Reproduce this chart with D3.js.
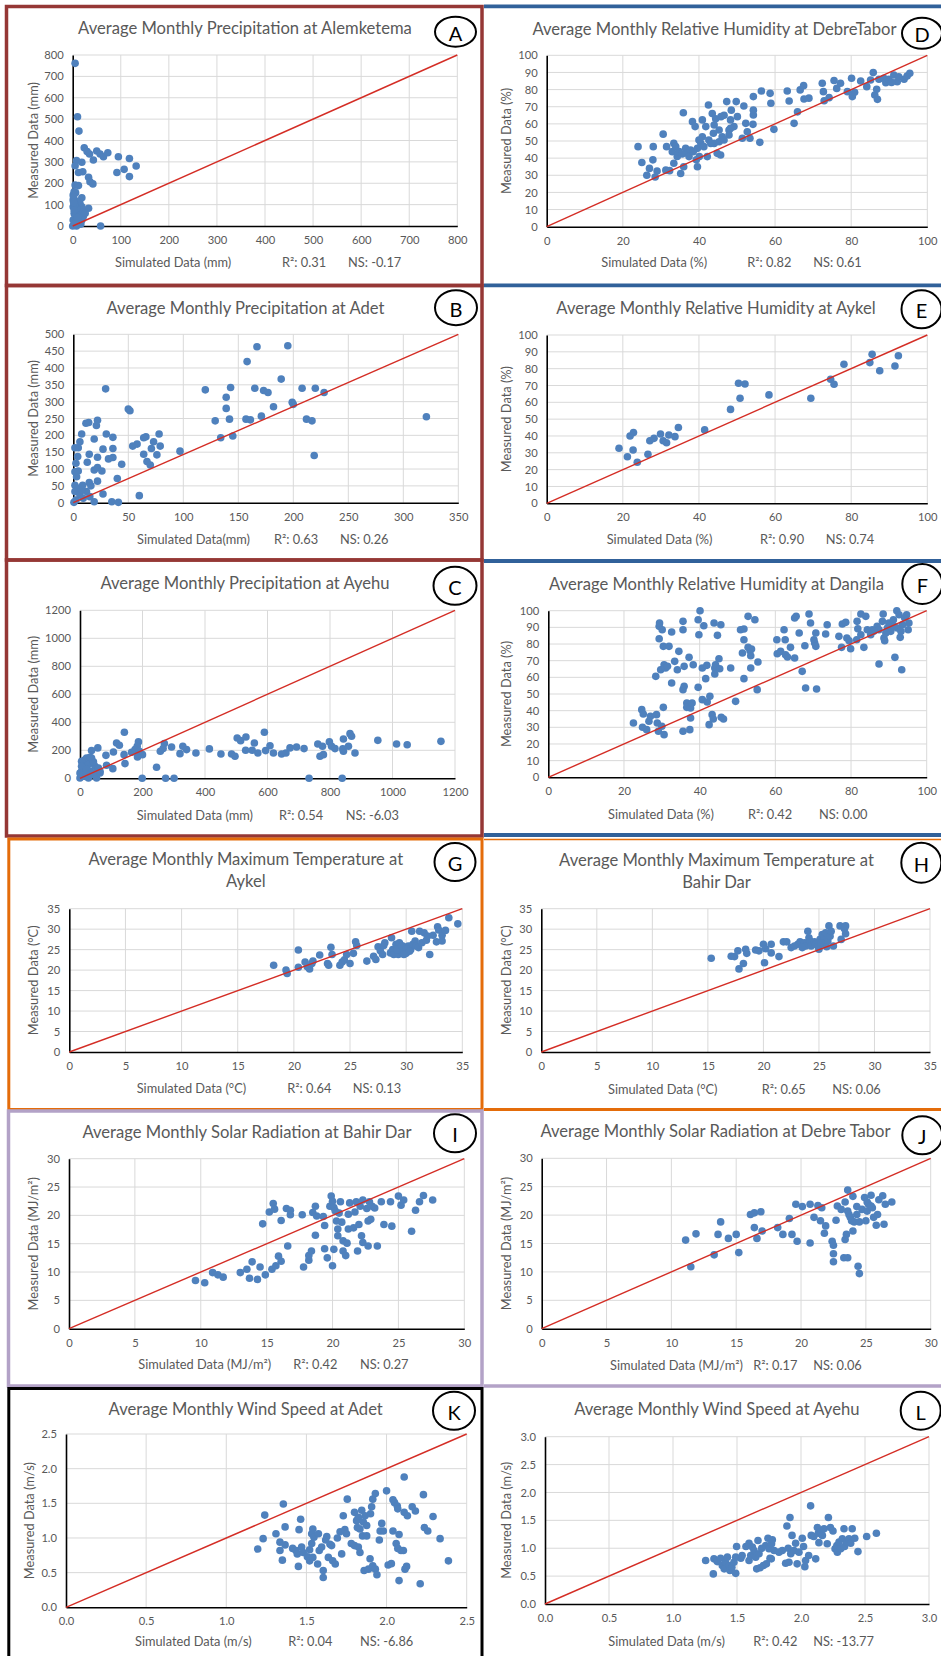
<!DOCTYPE html>
<html>
<head>
<meta charset="utf-8">
<script src="https://cdn.jsdelivr.net/npm/d3@7"></script>
<style>
  body { margin: 0; background: #fff; }
  svg text { font-family: Lato, "Liberation Sans", sans-serif; fill: #595959; }
  .title { font-size: 16.6px; }
  .axlabel { font-size: 12.8px; }
  .tick text { font-size: 11.2px; fill: #595959; font-family: Lato, sans-serif; }
  .badge text { fill: #000; font-size: 20px; }
</style>
</head>
<body>
<svg id="chart" width="941" height="1656"></svg>
<script>
// ---- text ----
const letters = ['A', 'B', 'C', 'D', 'E', 'F', 'G', 'H', 'I', 'J', 'K', 'L'];
const titles = [
  ['Average Monthly Precipitation at Alemketema'],
  ['Average Monthly Precipitation at Adet'],
  ['Average Monthly Precipitation at Ayehu'],
  ['Average Monthly Relative Humidity at DebreTabor'],
  ['Average Monthly Relative Humidity at Aykel'],
  ['Average Monthly Relative Humidity at Dangila'],
  ['Average Monthly Maximum Temperature at', 'Aykel'],
  ['Average Monthly Maximum Temperature at', 'Bahir Dar'],
  ['Average Monthly Solar Radiation at Bahir Dar'],
  ['Average Monthly Solar Radiation at Debre Tabor'],
  ['Average Monthly Wind Speed at Adet'],
  ['Average Monthly Wind Speed at Ayehu']
];
const simLabels = ['Simulated Data (mm)', 'Simulated Data(mm)', 'Simulated Data (mm)',
  'Simulated Data (%)', 'Simulated Data (%)', 'Simulated Data (%)',
  'Simulated Data (°C)', 'Simulated Data (°C)',
  'Simulated Data (MJ/m²)', 'Simulated Data (MJ/m²)',
  'Simulated Data (m/s)', 'Simulated Data (m/s)'];
const measLabels = ['Measured Data (mm)', 'Measured Data (mm)', 'Measured Data (mm)',
  'Measured Data (%)', 'Measured Data (%)', 'Measured Data (%)',
  'Measured Data (°C)', 'Measured Data (°C)',
  'Measured Data (MJ/m²)', 'Measured Data (MJ/m²)',
  'Measured Data (m/s)', 'Measured Data (m/s)'];
const r2Values = ['0.31', '0.63', '0.54', '0.82', '0.90', '0.42', '0.64', '0.65', '0.42', '0.17', '0.04', '0.42'];
const nsValues = ['-0.17', '0.26', '-6.03', '0.61', '0.74', '0.00', '0.13', '0.06', '0.27', '0.06', '-6.86', '-13.77'];

// ---- tick labels ----
const ticksPrecipA = [0, 100, 200, 300, 400, 500, 600, 700, 800];
const ticksPrecipBx = [0, 50, 100, 150, 200, 250, 300, 350];
const ticksPrecipBy = [0, 50, 100, 150, 200, 250, 300, 350, 400, 450, 500];
const ticksPrecipC = [0, 200, 400, 600, 800, 1000, 1200];
const ticksHumX = [0, 20, 40, 60, 80, 100];
const ticksHumY = [0, 10, 20, 30, 40, 50, 60, 70, 80, 90, 100];
const ticksTemp = [0, 5, 10, 15, 20, 25, 30, 35];
const ticksSolar = [0, 5, 10, 15, 20, 25, 30];
const ticksWindK = [0, 0.5, 1, 1.5, 2, 2.5];
const ticksWindL = [0, 0.5, 1, 1.5, 2, 2.5, 3];

// ---- series: [simulated, measured] ----
const precipAlemketema = [[5,761],[10,511],[13,444],[24,366],[30,348],[35,337],[43,309],[50,351],[57,337],[64,324],[73,343],[8,306],[5,282],[19,298],[12,250],[21,254],[33,228],[36,207],[42,197],[5,192],[12,189],[6,156],[19,132],[33,83],[95,324],[92,250],[107,265],[118,316],[118,231],[132,281],[58,0],[1,122],[1,90],[3,59],[1,28],[5,5],[8,0],[12,20],[15,59],[19,90],[22,67],[15,106],[10,114],[8,83],[5,51],[7,28],[19,28],[14,44],[22,44],[17,9],[0,0],[3,160],[1,145],[2,135],[4,100],[3,75],[10,40],[26,60],[6,10],[2,110]];
const precipAdet = [[29.4,338],[50,278],[51.5,273],[120,335],[139,313],[139,280],[143,342],[129,243],[142,248],[134,193],[145,198],[158,419],[167,463],[195,466],[189,367],[165,340],[173,333],[177,327],[208,340],[220,340],[228,327],[199,298],[200,292],[182,285],[171,257],[157,248],[161,246],[212,248],[217,243],[219,140],[321,255],[97,153],[78,204],[79,168],[66,196],[64,193],[73,181],[71,161],[76,142],[64,144],[67,122],[70,112],[54,168],[58,174],[44,114],[40,72],[60,21],[35,3],[41,1],[27,26],[19,3],[30,204],[36,194],[36,161],[36,134],[32,130],[27,159],[22,245],[21,229],[14,238],[11.5,236],[19,189],[14.5,144],[12.7,120],[19,97],[22,104],[26,94],[22,135],[22,64],[14.5,60],[16,50],[7.6,204],[6,181],[4.5,163],[1.5,163],[4,137],[2.4,117],[1.5,92],[4.5,94],[1.5,52],[4.5,43],[1.5,33],[6,23],[2.4,8],[9,13],[12,33],[15,18],[0.6,1],[7.6,38],[3,77],[8.5,52]];
const precipAyehu = [[142,329],[187,260],[183,229],[117,252],[126,236],[107,188],[141,169],[144,105],[83,164],[85,93],[105,69],[57,217],[37,198],[165,186],[176,205],[190,193],[200,169],[184,152],[199,0],[274,0],[301,0],[733,0],[839,0],[270,248],[257,193],[266,212],[245,79],[293,224],[320,176],[329,229],[341,205],[371,181],[414,210],[451,174],[485,174],[496,157],[503,288],[514,269],[531,295],[530,200],[551,200],[558,252],[569,181],[590,329],[594,198],[608,233],[619,181],[645,174],[659,181],[672,217],[693,224],[717,212],[761,245],[768,157],[779,169],[776,229],[798,260],[805,229],[816,212],[843,281],[843,193],[841,210],[859,229],[864,319],[869,300],[880,181],[953,271],[1013,245],[1047,240],[1155,264],[0,2],[5,50],[11,98],[16,133],[21,145],[5,121],[27,98],[32,50],[37,145],[48,86],[53,50],[43,26],[16,14],[27,2],[53,2],[64,38],[59,74],[11,38],[0,38],[5,86],[21,62],[43,117],[32,150],[64,50]];
const humDebreTabor = [[24,46.7],[25,37.5],[26.3,30],[27,34],[28,46.7],[27.9,39],[28.5,29],[29,32.5],[30.6,54],[31.5,46.7],[31.3,33],[32.3,32.7],[33.4,48.6],[33,43.8],[33.4,37],[34.3,41],[35.2,31],[35.9,66.5],[36,35],[36.5,45.7],[37,42.8],[37.8,44.7],[38.3,61.3],[39,58.4],[39.6,45.7],[39.6,35],[39.3,39],[40.5,48.6],[40.9,62.3],[40.9,52.5],[41.8,58.4],[42.2,40.9],[42.5,71],[42.6,50.6],[43.5,66],[43.8,54.5],[44,48.6],[44.4,63],[44.8,42.8],[45.3,56.4],[45.7,41.8],[46.1,52.5],[46.6,65],[47.3,73],[47.9,56.4],[48.3,62.3],[48.5,68],[47.9,53.5],[49.2,58.4],[49.8,73],[51.4,51.6],[51.8,70.4],[52.3,60.3],[52.7,55.4],[53.4,51.6],[54.3,75.9],[54.3,65.2],[54.3,68],[54.2,59.7],[56,49.2],[56.4,79.2],[58.7,77.8],[58.9,72],[59.7,56.8],[63.2,79.2],[63.7,73.3],[65,60.3],[65.9,67],[66.6,79.8],[67.5,82.3],[67.6,74.5],[68.9,75],[72.4,83.7],[72.7,78.8],[72.9,73.5],[74.2,75.3],[75.5,85.3],[76.2,80.7],[77.2,83.7],[79,78.8],[80.1,86.6],[80.3,75.9],[80.9,78.4],[82.5,85],[84.1,81.7],[85.1,85.6],[85.8,89.9],[86.2,76.8],[86.9,74.3],[86.7,80.2],[87.3,86],[88.6,86.6],[89.1,84],[89.9,86],[91.2,88.5],[92.1,84.6],[93.9,86],[94.7,87.9],[95.4,89.5],[92.5,87.5],[90.6,84.2],[33.9,46.7],[34.8,43.8],[35.6,42.4],[37.4,40.9],[38.5,43.8],[40.1,40.9],[41.3,46.7],[43.1,48.6],[45.3,49.6],[46.6,50.6],[48.3,57.4],[50.1,64.2],[44,59.3],[45.8,64.2],[40,50.6]];
const humAykel = [[19,32.7],[21.2,27.7],[21.9,40],[22.8,42],[22.7,31.7],[23.8,24.4],[26.6,29.1],[27.1,37.2],[28.2,38.6],[29.9,41.2],[30.6,37.2],[31.5,36],[32.1,40.6],[33.7,39.6],[34.6,45],[41.5,43.6],[48.3,55.8],[50.4,71.3],[52.1,70.9],[50.8,62.4],[58.4,64.4],[69.4,62.4],[74.6,73.7],[75.5,70.7],[78.1,82.6],[84.9,83.6],[85.5,88.5],[87.5,78.8],[91.5,81.6],[92.4,87.7]];
const humDangila = [[22.5,32.6],[24.7,40.6],[25.1,38],[24.9,30],[26,28.6],[26.6,33.6],[27,36.6],[28.6,37.6],[28.8,32.6],[29.1,27.6],[30,30.6],[30.6,25.6],[30.4,42],[28.4,60.6],[29.3,83.2],[29.3,90.6],[29.4,92.6],[30.1,88.6],[30.4,78.6],[31.9,78.6],[29.7,64.6],[30.6,67.6],[31,65.6],[31.5,66.6],[32.6,56.6],[32.6,87.2],[33.4,69.6],[34.1,64.6],[34.5,75.6],[35.6,93.6],[35.6,88.6],[35.9,66.6],[35.6,52.6],[35.9,54.6],[35.6,27.6],[36.6,44.6],[36.6,42],[37.2,72],[37.4,28.6],[37.6,35.6],[37.6,41.6],[38,44.6],[38.3,67.6],[39.6,94.6],[40.1,100],[39.8,85.6],[39.6,54],[40.7,65.6],[40.7,46.6],[41.1,91],[41.6,59.2],[41.9,67.2],[42,45.2],[42.5,31.6],[42.7,48.6],[43.3,37.6],[43.6,35],[43.8,92.6],[44,65.6],[44,62],[44.2,67.6],[44.7,85.2],[45.1,71.2],[45.3,65.2],[45.6,91.6],[45.7,36],[46.3,35],[48.2,65.6],[49.5,45.6],[50.8,88.6],[51.7,89],[51.3,74.6],[51.7,82.6],[51.7,59.2],[52.8,96.6],[52.8,78],[53.3,76],[53.5,73],[53.7,77],[53.5,65.6],[54.6,94.6],[55.2,52.6],[55.4,69.2],[60.4,82.6],[60.5,74.2],[61.4,75.6],[62.3,88.6],[62.6,82.6],[62.7,73.6],[63.2,72.2],[64,78],[65.1,71.6],[65.1,95.6],[65.5,96.6],[66.3,86.6],[67.1,63.6],[67.8,79],[68,53.6],[68.9,98],[69.3,92.6],[70.2,82.6],[70.4,80.6],[70.7,78.6],[70.7,86.6],[70.9,53],[73.3,86],[73.7,91.6],[76.8,84.6],[77.5,78],[77.7,92],[78.6,93],[78.9,83.6],[79.5,82],[79.9,77.2],[81.5,82.6],[81.6,93.6],[81.8,89.2],[82.6,98],[82.6,85.6],[83.4,78],[83.9,96.6],[84.3,88.6],[85.2,85.6],[85.6,88.6],[86.9,90.6],[87.4,68],[88.3,93.6],[88.5,98],[88.7,83.6],[88.9,82],[89.6,89.6],[90,92.6],[90.5,87.6],[91.2,94.6],[91.6,72],[92.1,100],[92.2,89.6],[92.7,97.6],[93,84],[93.4,64.6],[93.6,91.6],[94.2,95.6],[94.7,97.6],[95.1,88.6],[95.3,92.6],[87.4,88.6],[86,87.6],[89.2,86.6],[91.4,90.6],[93.2,87.6]];
const tmaxAykel = [[18.2,21.2],[19.3,20],[19.4,19.2],[20.4,20.7],[20.4,24.9],[21,22],[21.2,20.8],[21.4,20.3],[21.6,21.6],[21.7,22.2],[22.3,23.7],[23,21.6],[23.1,21.2],[23.3,25.6],[23.4,23.8],[24.1,21.2],[24.3,22],[24.5,22.5],[24.7,23.8],[25,21.6],[25.3,24.1],[25.5,26.9],[25.6,26],[26.5,22.2],[27.1,23.4],[27.3,22.6],[27.5,25.7],[27.7,24.7],[27.9,23.8],[28,26],[28.1,26.7],[28.6,24.2],[28.7,27.9],[28.8,25],[28.9,23.8],[29.1,26.3],[29.3,23.8],[29.4,25.5],[29.4,26.7],[29.6,24.4],[29.7,25.9],[29.9,24.7],[30,24.1],[30.2,25.9],[30.4,25],[30.5,29.5],[30.6,26.3],[30.8,27.1],[30.9,25.9],[31.2,29.5],[31.1,25.5],[31.4,26.7],[31.6,29.1],[31.8,27.3],[31.9,28.3],[32.1,23.8],[32.4,28.5],[32.7,26.9],[32.8,30.6],[32.9,29.8],[33.2,27.1],[33.2,28.5],[33.5,29.7],[33.8,32.8],[34.6,31.3],[29.2,25],[29.6,25.9],[30,25.2],[30.3,24.6],[29.8,23.8]];
const tmaxBahirDar = [[15.3,22.9],[17.1,23.4],[17.4,23.3],[17.7,24.7],[17.8,20.3],[18.2,21.6],[18.4,25.1],[18.5,24.1],[19.3,24.9],[19.6,24.7],[20,26.3],[20.1,21.8],[20.2,25.2],[20.7,24.2],[20.7,26.3],[21.4,23.3],[21.8,26.9],[22.1,26.9],[22.5,25.5],[23.1,26.3],[23.3,26.9],[23.7,26.7],[23.8,25.9],[24,29.5],[24.1,27.9],[24.2,27.1],[24.3,25.9],[24.6,26.9],[24.7,26.3],[25,25.1],[25.1,27.5],[25.3,28.7],[25.4,26.3],[25.5,27.9],[25.6,29.1],[25.8,27.1],[25.9,30.8],[26,28.3],[26.1,29.5],[26.3,25.9],[26.9,30.8],[27,27.5],[27.3,30.1],[27.4,28.9],[27.4,30.8],[24.9,25.9],[25.2,26.7],[25.7,25.7],[23.5,25.5],[22.8,25.9]];
const solarBahirDar = [[9.6,8.5],[10.3,8.1],[10.9,9.9],[11.3,9.5],[11.7,9.1],[13,9.9],[13.5,10.5],[13.7,8.9],[13.9,11.8],[14.3,8.7],[14.5,10.9],[14.7,18.5],[14.9,9.5],[15.4,10.5],[15.7,11.1],[15.9,12.8],[16.1,11.9],[15.2,20.6],[15.5,22.1],[15.6,21.1],[16.1,19.1],[16.5,21.2],[16.8,20.9],[16.8,20.1],[16.6,14.6],[17.7,20.1],[17.8,10.9],[18.2,12.1],[18.2,12.9],[18.4,13.7],[18.7,21.6],[18.5,20.5],[18.8,19.9],[18.7,16.5],[19.3,19.8],[19.4,18.2],[19.4,14.1],[19.6,12.5],[19.8,21.6],[19.9,23.4],[20,22.5],[20.1,21.4],[20,11.1],[20.1,14],[20.2,20.8],[20.3,19],[20.4,16.4],[20.4,17.6],[20.5,20.4],[20.6,22.4],[20.7,18.8],[20.8,15.5],[20.8,13.7],[21,12.9],[21.1,15.1],[21.2,20.2],[21.2,17.6],[21.3,22.2],[21.6,17.8],[21.7,20.6],[21.8,22.4],[21.9,13.7],[22,18.4],[22.1,21.6],[22.2,16.4],[22.3,15.2],[22.3,22.7],[22.6,21.2],[22.7,19],[22.7,14.6],[22.8,22.4],[22.9,19.3],[23,21.6],[23.2,21.3],[23.4,14.6],[23.7,22.4],[23.9,18.4],[24.4,22.4],[24.5,18.1],[25,23.4],[25.2,21.8],[25.4,22.7],[26,17.2],[26.3,20.9],[26.6,22.4],[26.9,23.5],[27.6,22.7]];
const solarDebreTabor = [[11.1,15.6],[11.5,10.9],[11.9,16.7],[13.3,13],[13.6,16.6],[13.8,18.8],[14.4,15.9],[15,16.6],[15.2,13.4],[16.1,20.1],[16.4,20.4],[16.4,17.8],[16.6,15.9],[16.9,20.6],[17,17.2],[18.2,17.8],[18.6,16.6],[19.1,19.4],[19.3,16.6],[19.6,21.9],[19.7,15.4],[20.1,21.5],[20.7,21.9],[20.7,15.1],[21,19.6],[21.3,21.7],[21.5,19],[21.6,21.3],[21.8,16.8],[21.9,18.1],[22.4,15.4],[22.5,14.7],[22.5,13.2],[22.5,11.8],[22.7,19.1],[22.8,21.6],[23.1,21],[23.3,12.5],[23.4,22.3],[23.4,15.7],[23.5,16.6],[23.6,20.7],[23.6,24.4],[23.6,12.5],[23.7,20.1],[23.8,19.6],[23.9,19],[24,23.3],[24,17.2],[24.1,18.8],[24.3,21.5],[24.3,20.1],[24.4,11],[24.5,9.7],[24.5,18.8],[24.7,21],[24.9,23.1],[25,19],[25.1,20.7],[25.2,21.9],[25.4,23.5],[25.5,21.3],[25.6,19.6],[25.8,18.2],[25.9,20.1],[26,22.7],[26.3,23.4],[26.4,18.4],[26.5,21.9],[27,22.3],[25.1,22.3],[25.4,21.6]];
const windAdet = [[1.196,0.84],[1.23,0.99],[1.24,1.33],[1.31,1.06],[1.335,0.94],[1.335,0.82],[1.35,0.68],[1.356,1.49],[1.367,1.16],[1.367,0.9],[1.414,0.85],[1.435,0.82],[1.443,0.77],[1.45,0.59],[1.454,1.12],[1.464,1.27],[1.47,0.87],[1.48,0.79],[1.506,0.73],[1.52,0.83],[1.533,0.92],[1.533,1.06],[1.54,1.13],[1.547,1.01],[1.52,0.67],[1.54,0.72],[1.57,0.625],[1.575,1.06],[1.58,0.82],[1.595,0.87],[1.605,0.43],[1.605,0.53],[1.62,0.97],[1.627,1.02],[1.637,0.72],[1.647,0.91],[1.657,0.89],[1.664,0.67],[1.68,0.625],[1.693,1.0],[1.71,1.09],[1.72,0.77],[1.73,1.32],[1.74,1.12],[1.755,1.56],[1.75,1.06],[1.78,0.92],[1.8,1.37],[1.8,0.89],[1.813,1.25],[1.818,1.15],[1.824,0.87],[1.824,1.3],[1.834,1.13],[1.834,0.79],[1.845,1.4],[1.85,1.03],[1.855,1.23],[1.86,0.53],[1.866,1.32],[1.876,1.18],[1.876,1.03],[1.887,0.55],[1.897,0.7],[1.9,1.35],[1.907,1.45],[1.914,1.56],[1.93,1.64],[1.914,0.6],[1.93,0.55],[1.94,0.47],[1.955,0.97],[1.96,1.1],[1.97,1.21],[1.98,1.1],[2.0,1.68],[2.01,0.61],[2.03,0.63],[2.04,1.55],[2.04,1.1],[2.05,1.51],[2.06,0.92],[2.067,1.46],[2.07,1.42],[2.07,0.85],[2.078,1.05],[2.078,0.385],[2.09,0.82],[2.11,1.88],[2.105,0.82],[2.11,1.37],[2.115,0.55],[2.125,0.59],[2.13,1.32],[2.16,1.45],[2.18,1.39],[2.21,0.34],[2.23,1.625],[2.236,1.15],[2.257,1.1],[2.29,1.31],[2.334,0.99],[2.386,0.67]];
const windAyehu = [[1.255,0.78],[1.315,0.54],[1.32,0.81],[1.346,0.76],[1.372,0.82],[1.385,0.69],[1.4,0.63],[1.41,0.75],[1.425,0.84],[1.44,0.69],[1.445,0.6],[1.46,0.66],[1.476,0.75],[1.49,0.55],[1.49,0.84],[1.497,1.03],[1.53,0.82],[1.54,0.87],[1.57,1.03],[1.594,1.09],[1.594,0.78],[1.607,0.87],[1.62,1.02],[1.633,0.96],[1.646,0.84],[1.654,0.63],[1.664,1.14],[1.672,0.9],[1.68,0.65],[1.693,1.0],[1.706,0.69],[1.724,1.05],[1.73,0.72],[1.742,1.18],[1.75,0.99],[1.758,0.82],[1.77,1.08],[1.776,1.15],[1.79,0.96],[1.768,0.81],[1.828,0.93],[1.854,0.96],[1.88,0.73],[1.89,1.4],[1.906,0.75],[1.914,1.55],[1.9,1.0],[1.92,0.9],[1.93,1.23],[1.945,0.96],[1.958,1.09],[1.97,0.72],[1.984,0.93],[2.01,1.18],[2.02,1.03],[2.03,0.67],[2.036,0.78],[2.06,0.87],[2.075,1.76],[2.08,1.23],[2.1,1.21],[2.115,0.81],[2.128,1.37],[2.135,1.27],[2.14,1.1],[2.154,1.29],[2.167,1.23],[2.18,1.35],[2.205,1.08],[2.214,1.55],[2.23,1.37],[2.25,1.31],[2.266,0.99],[2.28,1.05],[2.284,0.93],[2.297,1.11],[2.31,0.99],[2.323,1.17],[2.336,1.35],[2.34,1.03],[2.357,1.11],[2.375,1.17],[2.388,1.09],[2.4,1.35],[2.42,1.18],[2.445,0.94],[2.513,1.21],[2.589,1.27]];

// ---- panel layout (pixel placement only) ----
const layout = [
  { plot: [72.7, 55, 457.3, 226], title: [245, 28], badge: [455.5, 31.7, 20.5, 15], ylab: 33, bot: 262.3, tx: [115, 282, 348] },
  { plot: [73.3, 334.3, 458.3, 502.7], title: [245.5, 307.7], badge: [456, 307.7, 21, 17.5], ylab: 33, bot: 539.3, tx: [137, 274, 340] },
  { plot: [80, 610.3, 455, 778.3], title: [245, 583], badge: [455, 585.7, 21.5, 19], ylab: 33, bot: 814.7, tx: [136.7, 279, 345.7] },
  { plot: [546.7, 55.3, 927.3, 226.7], title: [714.5, 29.3], badge: [922, 33.3, 20, 15.5], ylab: 506.3, bot: 262.3, tx: [601.3, 747.3, 813.3] },
  { plot: [546.7, 335, 927.3, 503.3], title: [716, 307.7], badge: [921.5, 309.3, 20, 19], ylab: 506.3, bot: 539.3, tx: [606.7, 760, 825.7] },
  { plot: [548.3, 610.7, 926.7, 777.3], title: [716.5, 584], badge: [922.3, 584, 20, 20], ylab: 505.7, bot: 814, tx: [608, 748, 819] },
  { plot: [69.3, 908.7, 462.3, 1052], title: [245.8, 859.3], badge: [455, 862, 20.5, 19], ylab: 33.3, bot: 1087.7, tx: [136.7, 287.3, 352.7] },
  { plot: [541.3, 908.7, 930, 1052], title: [716.5, 860], badge: [921.3, 862.7, 20, 20], ylab: 505.7, bot: 1089.3, tx: [608, 761.7, 832.3] },
  { plot: [69, 1158.7, 464.3, 1328.7], title: [247, 1132], badge: [455, 1133.3, 21, 19], ylab: 33.3, bot: 1364.3, tx: [138.3, 293.3, 360] },
  { plot: [541.7, 1158.3, 930.7, 1328.7], title: [715.5, 1131], badge: [922.3, 1135.3, 20, 19], ylab: 506.3, bot: 1365.3, tx: [610, 753.3, 813.3] },
  { plot: [66, 1434, 466.7, 1607.3], title: [245.7, 1409], badge: [454, 1410.7, 21, 19], ylab: 29, bot: 1640.7, tx: [135, 288.3, 360] },
  { plot: [545, 1436.7, 929, 1604], title: [716.8, 1409], badge: [920.7, 1410.7, 20, 19], ylab: 506.3, bot: 1640.7, tx: [608.3, 753.3, 813.3] }
];

const series = [precipAlemketema, precipAdet, precipAyehu, humDebreTabor, humAykel, humDangila,
  tmaxAykel, tmaxBahirDar, solarBahirDar, solarDebreTabor, windAdet, windAyehu];
const xTicks = [ticksPrecipA, ticksPrecipBx, ticksPrecipC, ticksHumX, ticksHumX, ticksHumX,
  ticksTemp, ticksTemp, ticksSolar, ticksSolar, ticksWindK, ticksWindL];
const yTicks = [ticksPrecipA, ticksPrecipBy, ticksPrecipC, ticksHumY, ticksHumY, ticksHumY,
  ticksTemp, ticksTemp, ticksSolar, ticksSolar, ticksWindK, ticksWindL];

const svg = d3.select('#chart');

// ---- coloured frames ----
const red = '#953735', blue = '#31619a', orange = '#e46c0a', purple = '#b3a2c7';
const box = (x0, y0, x1, y1, color, w) => svg.append('rect')
  .attr('x', x0).attr('y', y0).attr('width', x1 - x0).attr('height', y1 - y0)
  .attr('fill', 'none').attr('stroke', color).attr('stroke-width', w);
const hline = (yy, color, w) => svg.append('line')
  .attr('x1', 484).attr('x2', 941).attr('y1', yy).attr('y2', yy)
  .attr('stroke', color).attr('stroke-width', w);

box(6.5, 6.5, 482, 285.5, red, 3.5);
box(6.5, 285.5, 482, 560, red, 3.5);
box(6.5, 560, 482, 836, red, 3.5);
hline(6.3, blue, 3.8);
hline(285.3, blue, 3.8);
hline(561, blue, 3.8);
hline(835, blue, 3.8);
box(8.8, 839, 482, 1109.5, orange, 3);
hline(839.5, orange, 1.5);
hline(1109.5, orange, 3);
box(8.5, 1111, 482, 1386, purple, 3.5);
hline(1386, purple, 3.5);
box(8.8, 1388.5, 482, 1662, '#000', 3);

// ---- panels ----
const fmtWind = d3.format('.1f');

series.forEach((data, i) => {
  const lay = layout[i];
  const [L, T, R, B] = lay.plot;
  const xt = xTicks[i], yt = yTicks[i];
  const xMax = d3.max(xt), yMax = d3.max(yt);
  const x = d3.scaleLinear().domain([0, xMax]).range([L, R]);
  const y = d3.scaleLinear().domain([0, yMax]).range([B, T]);
  const fmt = i >= 10 ? fmtWind : d3.format('d');
  const g = svg.append('g');

  g.selectAll('.vg').data(xt.slice(1)).enter().append('line')
    .attr('x1', d => x(d)).attr('x2', d => x(d)).attr('y1', T).attr('y2', B)
    .attr('stroke', '#d9d9d9').attr('stroke-width', 1);
  g.selectAll('.hg').data(yt.slice(1)).enter().append('line')
    .attr('x1', L).attr('x2', R).attr('y1', d => y(d)).attr('y2', d => y(d))
    .attr('stroke', '#d9d9d9').attr('stroke-width', 1);

  const ax = g.append('g').attr('transform', `translate(0,${B})`)
    .call(d3.axisBottom(x).tickValues(xt).tickSize(0).tickPadding(10).tickFormat(fmt));
  const ay = g.append('g').attr('transform', `translate(${L},0)`)
    .call(d3.axisLeft(y).tickValues(yt).tickSize(0).tickPadding(9).tickFormat(fmt));
  [ax, ay].forEach(a => {
    a.attr('font-size', null).attr('font-family', null);
    a.select('.domain').attr('stroke', '#000').attr('stroke-width', 1.6);
  });

  g.selectAll('.dot').data(data).enter().append('circle')
    .attr('cx', d => x(d[0])).attr('cy', d => y(d[1])).attr('r', 3.8)
    .attr('fill', '#4f81bd');

  g.append('line')
    .attr('x1', x(0)).attr('y1', y(0)).attr('x2', x(xMax)).attr('y2', y(yMax))
    .attr('stroke', '#d42d25').attr('stroke-width', 1.4);

  titles[i].forEach((t, k) => {
    g.append('text').attr('class', 'title')
      .attr('x', lay.title[0]).attr('y', lay.title[1] + k * 21.7)
      .attr('text-anchor', 'middle').attr('dominant-baseline', 'central')
      .text(t);
  });

  const bg = g.append('g').attr('class', 'badge');
  bg.append('ellipse')
    .attr('cx', lay.badge[0]).attr('cy', lay.badge[1]).attr('rx', lay.badge[2]).attr('ry', lay.badge[3])
    .attr('fill', 'none').attr('stroke', '#000').attr('stroke-width', 2);
  bg.append('text').attr('x', lay.badge[0]).attr('y', lay.badge[1] + 1)
    .attr('text-anchor', 'middle').attr('dominant-baseline', 'central')
    .text(letters[i]);

  g.append('text').attr('class', 'axlabel')
    .attr('transform', `translate(${lay.ylab},${(T + B) / 2}) rotate(-90)`)
    .attr('text-anchor', 'middle').attr('dominant-baseline', 'central')
    .text(measLabels[i]);

  [simLabels[i], `R²: ${r2Values[i]}`, `NS: ${nsValues[i]}`].forEach((t, k) => {
    g.append('text').attr('class', 'axlabel')
      .attr('x', lay.tx[k]).attr('y', lay.bot)
      .attr('dominant-baseline', 'central')
      .text(t);
  });
});
</script>
</body>
</html>
